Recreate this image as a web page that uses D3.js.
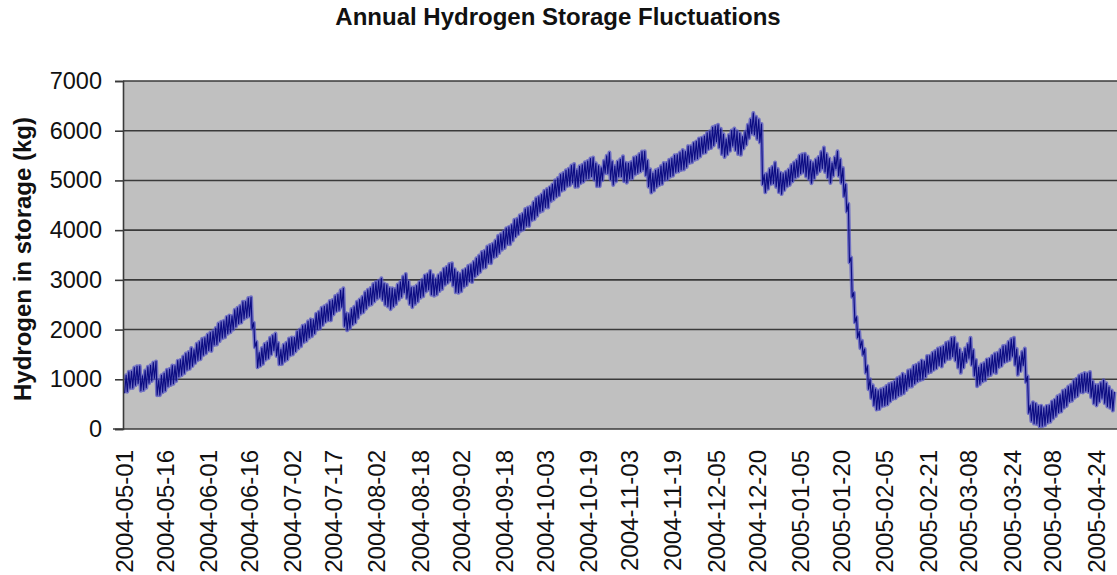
<!DOCTYPE html>
<html>
<head>
<meta charset="utf-8">
<script src="https://cdn.jsdelivr.net/npm/d3@7"></script>
<style>
  html, body { margin: 0; padding: 0; background: #ffffff; }
  svg { display: block; font-family: "Liberation Sans", Arial, sans-serif; }
</style>
</head>
<body>
<svg id="chart" width="1117" height="575"></svg>
<script>
// Daily storage record: mean level (kg) and the day's swing between
// the early-morning low and the evening high, one entry per day from 2004-05-01.
const startDate = "2004-05-01";
const endDate = "2005-05-01";

const dailyMean = [
  900, 950, 990, 1030, 1070, 1090, 920, 980, 1040, 1100,
  1150, 1190, 830, 880, 930, 980, 1030, 1080, 1090, 1170,
  1220, 1270, 1320, 1370, 1420, 1430, 1520, 1570, 1610, 1660,
  1710, 1760, 1770, 1860, 1910, 1960, 2000, 2050, 2100, 2110,
  2200, 2250, 2300, 2350, 2390, 2440, 2460, 2080, 1700, 1390,
  1450, 1510, 1570, 1630, 1690, 1750, 1600, 1450, 1500, 1550,
  1610, 1660, 1670, 1760, 1810, 1870, 1920, 1970, 2020, 2030,
  2120, 2180, 2230, 2280, 2330, 2380, 2390, 2490, 2540, 2590,
  2640, 2200, 2150, 2220, 2280, 2350, 2420, 2490, 2550, 2610,
  2660, 2710, 2760, 2800, 2840, 2760, 2700, 2650, 2620, 2640,
  2710, 2780, 2860, 2930, 2800, 2680, 2650, 2700, 2760, 2820,
  2880, 2940, 2990, 2900, 2850, 2900, 2960, 3020, 3080, 3130,
  3160, 3050, 2950, 2930, 2980, 3040, 3090, 3140, 3160, 3250,
  3300, 3360, 3410, 3460, 3520, 3530, 3620, 3680, 3730, 3790,
  3840, 3890, 3910, 4000, 4050, 4110, 4160, 4220, 4270, 4280,
  4380, 4430, 4480, 4540, 4590, 4640, 4660, 4750, 4810, 4860,
  4910, 4970, 5010, 5060, 5100, 5140, 5040, 5080, 5130, 5170,
  5210, 5240, 5270, 5180, 5090, 5070, 5200, 5320, 5350, 5200,
  5100, 5180, 5250, 5280, 5170, 5150, 5200, 5250, 5300, 5340,
  5380, 5400, 5250, 5050, 4950, 5000, 5050, 5100, 5140, 5180,
  5220, 5260, 5300, 5340, 5370, 5410, 5400, 5480, 5520, 5560,
  5600, 5640, 5670, 5720, 5760, 5810, 5860, 5900, 5950, 5850,
  5730, 5650, 5720, 5800, 5870, 5800, 5740, 5700, 5810, 5920,
  6040, 6150, 6100, 6030, 5950, 5020, 4950, 5030, 5100, 5150,
  5050, 4960, 4930, 4990, 5050, 5110, 5170, 5230, 5290, 5330,
  5350, 5280, 5210, 5150, 5230, 5300, 5380, 5450, 5350, 5250,
  5150, 5280, 5410, 5260, 5100, 4800, 4450, 3400, 2700, 2200,
  1900, 1700, 1550, 1200, 900, 750, 640, 580, 600, 640,
  670, 700, 740, 780, 820, 860, 900, 900, 980, 1020,
  1060, 1100, 1140, 1180, 1180, 1260, 1300, 1340, 1380, 1420,
  1460, 1460, 1540, 1580, 1620, 1650, 1550, 1420, 1330, 1430,
  1530, 1630, 1440, 1230, 1050, 1100, 1140, 1190, 1240, 1280,
  1330, 1330, 1420, 1470, 1510, 1560, 1600, 1650, 1450, 1270,
  1360, 1450, 1000, 400, 350, 310, 280, 260, 240, 270,
  300, 350, 400, 460, 510, 560, 610, 660, 720, 770,
  820, 870, 920, 930, 940, 945, 800, 700, 680, 740,
  800, 720, 650, 600, 560
];

const dailySwing = [
  360, 400, 340, 410, 380, 350, 300, 390, 420, 360,
  370, 340, 300, 400, 380, 420, 350, 390, 360, 410,
  340, 380, 400, 360, 420, 330, 390, 370, 410, 350,
  380, 360, 400, 340, 420, 390, 350, 410, 370, 330,
  400, 380, 360, 420, 350, 390, 380, 120, 110, 300,
  360, 400, 350, 410, 380, 340, 260, 300, 390, 370,
  420, 360, 340, 400, 380, 410, 350, 390, 370, 330,
  400, 360, 420, 380, 350, 390, 410, 370, 340, 400,
  380, 260, 330, 390, 360, 420, 370, 340, 400, 380,
  350, 410, 390, 360, 380, 330, 400, 370, 420, 350,
  390, 360, 410, 380, 340, 330, 400, 370, 390, 360,
  420, 350, 380, 400, 340, 390, 370, 410, 360, 380,
  350, 330, 400, 380, 420, 360, 390, 340, 410, 370,
  380, 400, 350, 420, 360, 390, 340, 410, 380, 370,
  400, 350, 390, 420, 360, 380, 340, 410, 370, 390,
  360, 420, 380, 350, 400, 370, 410, 340, 390, 380,
  420, 360, 390, 350, 400, 380, 340, 410, 370, 390,
  360, 400, 380, 330, 410, 370, 390, 350, 420, 360,
  380, 400, 350, 410, 370, 390, 340, 420, 360, 380,
  400, 370, 300, 350, 390, 410, 360, 380, 420, 340,
  390, 370, 410, 350, 380, 400, 360, 420, 340, 390,
  370, 410, 380, 350, 400, 360, 420, 390, 340, 380,
  400, 360, 390, 410, 350, 380, 420, 370, 340, 400,
  380, 410, 360, 390, 370, 200, 380, 400, 350, 420,
  360, 390, 410, 370, 340, 400, 380, 350, 420, 390,
  370, 400, 360, 410, 380, 340, 390, 420, 360, 380,
  400, 370, 350, 330, 300, 240, 160, 100, 90, 110,
  130, 150, 120, 140, 200, 260, 330, 380, 400, 360,
  390, 410, 370, 350, 400, 380, 420, 360, 390, 340,
  410, 380, 370, 400, 360, 420, 350, 390, 380, 400,
  360, 410, 390, 350, 420, 380, 340, 370, 400, 390,
  360, 410, 300, 320, 380, 400, 370, 420, 350, 390,
  380, 410, 360, 400, 340, 390, 420, 370, 320, 360,
  390, 340, 120, 160, 380, 400, 360, 420, 370, 390,
  350, 410, 380, 400, 360, 420, 370, 390, 340, 400,
  380, 410, 360, 390, 350, 400, 320, 370, 410, 380,
  360, 400, 390, 350, 380
];

// Category labels shown along the time axis
const xTickLabels = [
  "2004-05-01", "2004-05-16", "2004-06-01", "2004-06-16", "2004-07-02", "2004-07-17",
  "2004-08-02", "2004-08-18", "2004-09-02", "2004-09-18", "2004-10-03", "2004-10-19",
  "2004-11-03", "2004-11-19", "2004-12-05", "2004-12-20", "2005-01-05", "2005-01-20",
  "2005-02-05", "2005-02-21", "2005-03-08", "2005-03-24", "2005-04-08", "2005-04-24"
];
const yTickValues = [0, 1000, 2000, 3000, 4000, 5000, 6000, 7000];

const titleText = "Annual Hydrogen Storage Fluctuations";
const yTitleText = "Hydrogen in storage (kg)";

// ---- layout ----
const svg = d3.select("#chart");
const plot = { left: 123, right: 1117, top: 81, bottom: 429 };

const parseDay = d3.utcParse("%Y-%m-%d");
const t0 = parseDay(startDate);
const HOUR = 3600 * 1000, DAY = 24 * HOUR;

const x = d3.scaleUtc()
  .domain([t0, parseDay(endDate)])
  .range([124, 1115]);
const y = d3.scaleLinear()
  .domain([0, 7000])
  .range([plot.bottom, plot.top]);

// Two readings per day: morning low, evening high
const readings = [];
dailyMean.forEach((m, i) => {
  const s = dailySwing[i];
  readings.push({ t: new Date(+t0 + i * DAY + 5 * HOUR), v: m - s / 2 });
  readings.push({ t: new Date(+t0 + i * DAY + 19 * HOUR), v: m + s / 2 });
});

// plot background
svg.append("rect")
  .attr("x", plot.left).attr("y", plot.top)
  .attr("width", plot.right - plot.left).attr("height", plot.bottom - plot.top)
  .attr("fill", "#c0c0c0");

// horizontal gridlines
svg.append("g")
  .selectAll("line")
  .data(yTickValues.filter(v => v > 0))
  .join("line")
  .attr("x1", plot.left).attr("x2", plot.right)
  .attr("y1", d => y(d)).attr("y2", d => y(d))
  .attr("stroke", "#3a3a3a").attr("stroke-width", 1.6);

// storage line
const clipId = "plotclip";
svg.append("clipPath").attr("id", clipId)
  .append("rect")
  .attr("x", plot.left).attr("y", plot.top - 5)
  .attr("width", plot.right - plot.left).attr("height", plot.bottom - plot.top + 5);

const lineGen = d3.line().x(d => x(d.t)).y(d => y(d.v));

// soft halo of the dense daily trace
svg.append("path")
  .datum(readings)
  .attr("clip-path", `url(#${clipId})`)
  .attr("fill", "none")
  .attr("stroke", "#4e4ec4")
  .attr("stroke-opacity", 0.7)
  .attr("stroke-width", 4)
  .attr("stroke-linejoin", "round")
  .attr("d", lineGen);

svg.append("path")
  .datum(readings)
  .attr("clip-path", `url(#${clipId})`)
  .attr("fill", "none")
  .attr("stroke", "#0c0c82")
  .attr("stroke-width", 1.1)
  .attr("stroke-linejoin", "round")
  .attr("d", lineGen);

// y axis
const yAxis = svg.append("g")
  .attr("transform", `translate(${plot.left},0)`)
  .call(d3.axisLeft(y).tickValues(yTickValues).tickSize(8).tickPadding(13).tickFormat(d3.format("d")));
yAxis.select(".domain").attr("stroke", "#3a3a3a").attr("stroke-width", 1.6);
yAxis.selectAll(".tick line").attr("stroke", "#3a3a3a").attr("stroke-width", 1.6);
yAxis.selectAll("text")
  .attr("font-size", 23.5)
  .attr("fill", "#111")
  .attr("font-family", "Liberation Sans, Arial, sans-serif");

// x axis
const xAxis = svg.append("g")
  .attr("transform", `translate(0,${plot.bottom})`)
  .call(d3.axisBottom(x)
    .tickValues(xTickLabels.map(parseDay))
    .tickSize(0)
    .tickFormat(d3.utcFormat("%Y-%m-%d")));
xAxis.select(".domain")
  .attr("d", `M${plot.left - 10},0H${plot.right}`)
  .attr("stroke", "#3a3a3a").attr("stroke-width", 1.6);
xAxis.selectAll("text")
  .attr("transform", "rotate(-90)")
  .attr("x", -21).attr("y", 0).attr("dy", "0.35em")
  .style("text-anchor", "end")
  .attr("font-size", 24)
  .attr("fill", "#111")
  .attr("font-family", "Liberation Sans, Arial, sans-serif");

// titles
svg.append("text")
  .attr("x", 558).attr("y", 25)
  .attr("text-anchor", "middle")
  .attr("font-size", 24).attr("font-weight", "bold")
  .attr("fill", "#111")
  .text(titleText);

svg.append("text")
  .attr("transform", "translate(31,259) rotate(-90)")
  .attr("text-anchor", "middle")
  .attr("font-size", 24).attr("font-weight", "bold")
  .attr("fill", "#111")
  .text(yTitleText);
</script>
</body>
</html>
